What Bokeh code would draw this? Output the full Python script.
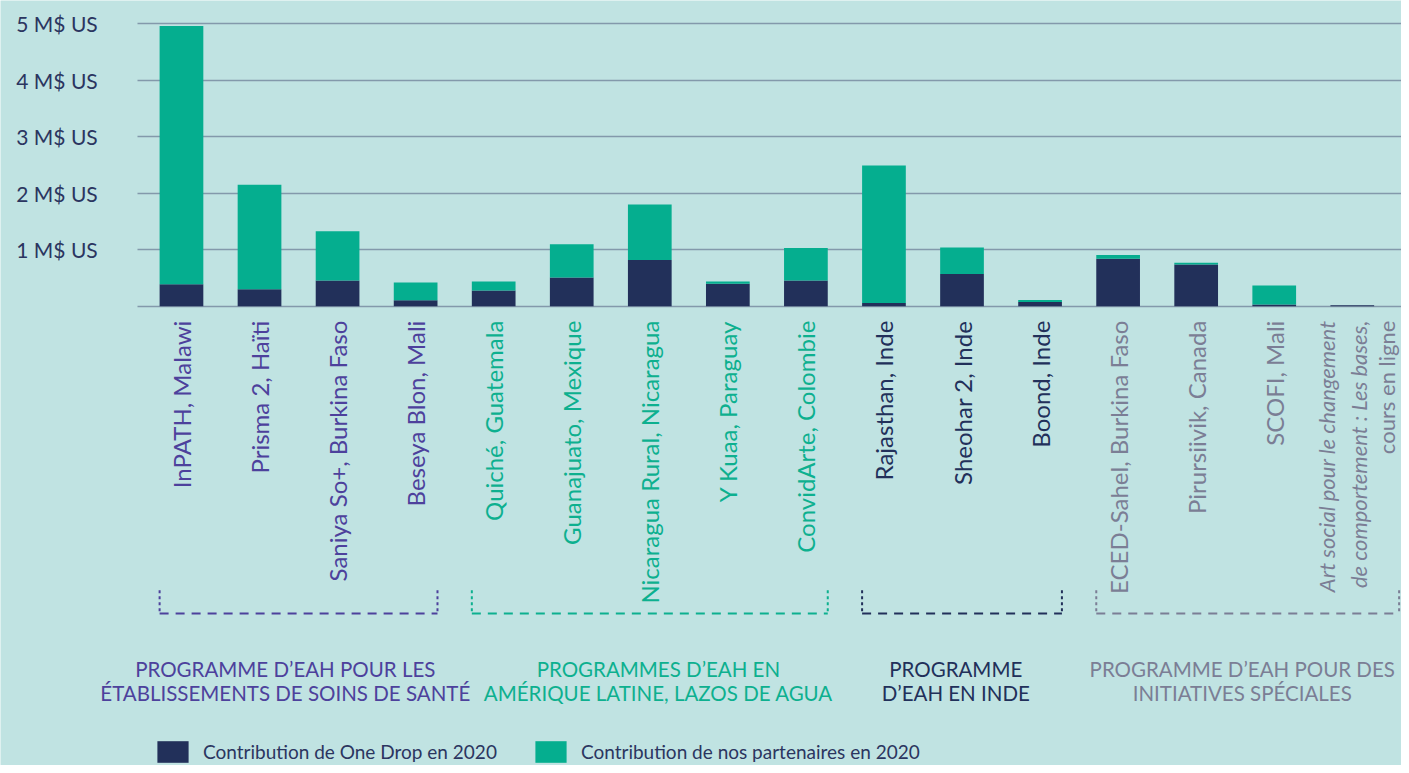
import math
from bokeh.plotting import figure
from bokeh.models import ColumnDataSource, Range1d, FixedTicker, Legend, LegendItem
from bokeh.core.properties import value
from bokeh.embed import file_html
from bokeh.resources import INLINE

# ---------------- data ----------------
projects = [
    "InPATH, Malawi", "Prisma 2, Haïti", "Saniya So+, Burkina Faso", "Beseya Blon, Mali",
    "Quiché, Guatemala", "Guanajuato, Mexique", "Nicaragua Rural, Nicaragua",
    "Y Kuaa, Paraguay", "ConvidArte, Colombie",
    "Rajasthan, Inde", "Sheohar 2, Inde", "Boond, Inde",
    "ECED-Sahel, Burkina Faso", "Pirursiivik, Canada", "SCOFI, Mali",
    "Art social pour le changement de comportement : Les bases, cours en ligne",
]
onedrop = [0.39, 0.30, 0.455, 0.105, 0.28, 0.51, 0.82, 0.40, 0.455,
           0.06, 0.57, 0.075, 0.84, 0.74, 0.03, 0.02]
partners = [4.57, 1.85, 0.875, 0.315, 0.16, 0.59, 0.98, 0.04, 0.575,
            2.43, 0.47, 0.035, 0.07, 0.03, 0.34, 0.0]
group_index = [0, 0, 0, 0, 1, 1, 1, 1, 1, 2, 2, 2, 3, 3, 3, 3]
group_title_line1 = ["PROGRAMME D\u2019EAH POUR LES", "PROGRAMMES D\u2019EAH EN",
                     "PROGRAMME", "PROGRAMME D\u2019EAH POUR DES"]
group_title_line2 = ["ÉTABLISSEMENTS DE SOINS DE SANTÉ", "AMÉRIQUE LATINE, LAZOS DE AGUA",
                     "D\u2019EAH EN INDE", "INITIATIVES SPÉCIALES"]
ytick_values = [0, 1, 2, 3, 4, 5]
ytick_labels = ["", "1 M$ US", "2 M$ US", "3 M$ US", "4 M$ US", "5 M$ US"]
legend_labels = ["Contribution de One Drop en 2020", "Contribution de nos partenaires en 2020"]
last_label_lines = ["Art social pour le changement", "de comportement : Les bases,", "cours en ligne"]

# ---------------- style / layout ----------------
BG = "#c0e3e2"
NAVY = "#22305a"
TEAL = "#05ae8f"
TXT = "#2b3560"
GRID = "#8399ab"
group_colors = ["#4d419c", "#0db08f", "#22305a", "#7b7e95"]
FONT = value("Lato")

W, H = 1401, 765
REF_W, REF_H = 1409, 773
sx, sy = W / REF_W, H / REF_H
px_x = 78.5 * sx                    # px per bar slot
px_y = 57.1 * sy                    # px per M$
x_start = (0 - 182 * sx) / px_x
x_end = x_start + W / px_x
y_top = 5 + 23.5 * sy / px_y
y_bot = y_top - H / px_y
axis_x = (138 - 182) / 78.5         # where the value axis / grid lines begin
grid_len = W - round(138 * sx)

p = figure(width=W, height=H, output_backend="svg", toolbar_location=None,
           x_range=Range1d(x_start, x_end), y_range=Range1d(y_bot, y_top),
           x_axis_location=None, min_border_left=0, min_border_right=0,
           min_border_top=0, min_border_bottom=0)
p.background_fill_color = BG
p.border_fill_color = BG
p.outline_line_color = None
p.xgrid.visible = False
p.ygrid.visible = False

# value axis drawn inside the frame; its ticks run across as the grid lines
yax = p.yaxis[0]
yax.level = "underlay"
yax.fixed_location = axis_x
yax.ticker = FixedTicker(ticks=ytick_values)
yax.major_label_overrides = {v: lab for v, lab in zip(ytick_values, ytick_labels)}
yax.axis_line_color = None
yax.major_tick_in = grid_len
yax.major_tick_out = 0
yax.major_tick_line_color = GRID
yax.major_tick_line_width = 1.6
yax.minor_tick_line_color = None
yax.major_label_standoff = 40
yax.major_label_text_font = "Lato"
yax.major_label_text_font_size = "21px"
yax.major_label_text_color = TXT

# stacked bars
xs = list(range(len(projects)))
src = ColumnDataSource(dict(x=xs, onedrop=onedrop, partners=partners))
rs = p.vbar_stack(["onedrop", "partners"], x="x", width=0.56, source=src,
                  color=[NAVY, TEAL], line_color=None)

# rotated project labels
lab_x, lab_t, lab_c = [], [], []
for i, name in enumerate(projects[:-1]):
    lab_x.append(i)
    lab_t.append(name)
    lab_c.append(group_colors[group_index[i]])
lab_src = ColumnDataSource(dict(x=lab_x, y=[-0.254] * len(lab_x), text=lab_t, color=lab_c))
p.text(x="x", y="y", text="text", source=lab_src, angle=math.pi / 2,
       text_align="right", text_baseline="middle", text_color="color",
       text_font=FONT, text_font_size="24px")

last = len(projects) - 1
offsets = [-0.33, 0.08, 0.44]
styles = ["italic", "italic", "normal"]
for off, line, st in zip(offsets, last_label_lines, styles):
    p.text(x=[last + off], y=[-0.254], text=[line], angle=math.pi / 2,
           text_align="right", text_baseline="middle",
           text_color=group_colors[group_index[last]], text_font=FONT,
           text_font_size="22px", text_font_style=st)

# group brackets
half = 0.28
g_start, g_end = [], []
for g in range(4):
    idx = [i for i, gg in enumerate(group_index) if gg == g]
    g_start.append(min(idx) - half)
    g_end.append(max(idx) + half)
g_end[3] = 15.6
y_h, y_t = -5.438, -5.026
p.segment(x0=g_start, x1=g_end, y0=[y_h] * 4, y1=[y_h] * 4, line_color=group_colors,
          line_width=2, line_dash="9 7")
p.segment(x0=g_start + g_end, x1=g_start + g_end, y0=[y_t] * 8, y1=[y_h] * 8,
          line_color=group_colors + group_colors, line_width=2, line_dash="3 3")

# group titles
title_x = [1.33, 6.11, 9.92, 13.59]
p.text(x=title_x, y=[-6.427] * 4, text=group_title_line1, text_color=group_colors,
       text_align="center", text_baseline="alphabetic", text_font=FONT, text_font_size="20.5px")
p.text(x=title_x, y=[-6.848] * 4, text=group_title_line2, text_color=group_colors,
       text_align="center", text_baseline="alphabetic", text_font=FONT, text_font_size="20.5px")

# legend
legend = Legend(items=[LegendItem(label=legend_labels[0], renderers=[rs[0]]),
                       LegendItem(label=legend_labels[1], renderers=[rs[1]])],
                orientation="horizontal", location=(round(154 * sx), 0),
                glyph_width=39, glyph_height=27, label_standoff=11, spacing=34,
                padding=0, margin=0, border_line_color=None, background_fill_alpha=0,
                label_text_font="Lato", label_text_font_size="19px", label_text_color=TXT)
p.add_layout(legend)

open("out.html", "w").write(file_html(p, INLINE))
